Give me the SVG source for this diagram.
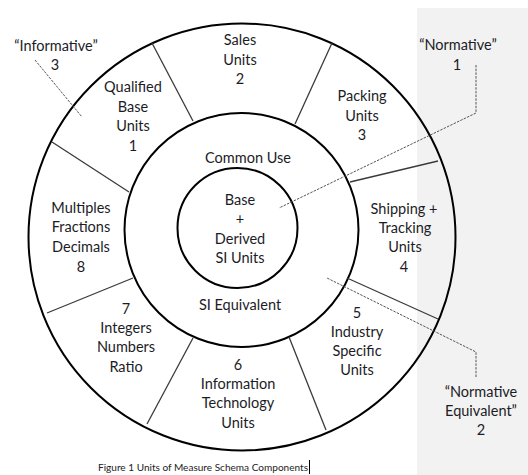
<svg xmlns="http://www.w3.org/2000/svg" width="528" height="475" viewBox="0 0 528 475">
<style>
  .t { font-family: Lato, "Open Sans", "Liberation Sans", sans-serif; font-size: 14.5px; fill: #1c1c26; text-anchor: middle; }
  .ring { fill: none; stroke: #000; stroke-width: 2; }
  .div { stroke: #3a3a3a; stroke-width: 1.3; fill: none; }
  .lead { stroke: #555; stroke-width: 1; fill: none; stroke-dasharray: 2.5 1.2; }
  .cap { font-family: Lato, "Liberation Sans", sans-serif; font-size: 9.5px; fill: #222; }
</style>
<rect x="0" y="0" width="528" height="475" fill="#fff"/>
<rect id="panel" x="417" y="8" width="111" height="467" fill="#f2f2f2"/>

<g id="rings">
  <circle class="ring" cx="242" cy="237" r="213.5"/>
  <circle class="ring" cx="241.5" cy="230" r="117"/>
  <circle class="ring" cx="237.5" cy="228" r="60"/>
</g>

<g id="dividers">
  <line class="div" x1="152" y1="43" x2="193" y2="121"/>
  <line class="div" x1="52" y1="142" x2="129" y2="192"/>
  <line class="div" x1="332" y1="43" x2="295" y2="124"/>
  <line class="div" x1="438" y1="161" x2="350" y2="182"/>
  <line class="div" x1="347" y1="278" x2="438" y2="319"/>
  <line class="div" x1="289" y1="337" x2="326" y2="430"/>
  <line class="div" x1="193" y1="338" x2="147" y2="424"/>
  <line class="div" x1="133" y1="278" x2="47" y2="313"/>
</g>

<g id="connectors">
  <line class="lead" x1="35" y1="60" x2="82" y2="117"/>
  <polyline class="lead" points="476,65 476,113 279,208"/>
  <polyline class="lead" points="476,377 476,352 327,278"/>
</g>

<g id="sales-units">
  <text class="t" x="240" y="45">Sales</text>
  <text class="t" x="240" y="65">Units</text>
  <text class="t" x="240" y="84">2</text>
</g>
<g id="qualified-base-units">
  <text class="t" x="133" y="92">Qualified</text>
  <text class="t" x="133" y="112">Base</text>
  <text class="t" x="133" y="131">Units</text>
  <text class="t" x="133" y="151">1</text>
</g>
<g id="packing-units">
  <text class="t" x="362" y="101">Packing</text>
  <text class="t" x="362" y="121">Units</text>
  <text class="t" x="362" y="140">3</text>
</g>
<g id="shipping-tracking-units">
  <text class="t" x="404" y="214">Shipping +</text>
  <text class="t" x="405" y="233">Tracking</text>
  <text class="t" x="405" y="252">Units</text>
  <text class="t" x="404" y="272">4</text>
</g>
<g id="industry-specific-units">
  <text class="t" x="357" y="318">5</text>
  <text class="t" x="357" y="337">Industry</text>
  <text class="t" x="357" y="356">Specific</text>
  <text class="t" x="357" y="375">Units</text>
</g>
<g id="information-technology-units">
  <text class="t" x="238" y="370">6</text>
  <text class="t" x="238" y="389">Information</text>
  <text class="t" x="238" y="408">Technology</text>
  <text class="t" x="238" y="428">Units</text>
</g>
<g id="integers-numbers-ratio">
  <text class="t" x="126" y="314">7</text>
  <text class="t" x="126" y="333">Integers</text>
  <text class="t" x="126" y="352">Numbers</text>
  <text class="t" x="126" y="372">Ratio</text>
</g>
<g id="multiples-fractions-decimals">
  <text class="t" x="81" y="213">Multiples</text>
  <text class="t" x="81" y="232">Fractions</text>
  <text class="t" x="81" y="252">Decimals</text>
  <text class="t" x="81" y="272">8</text>
</g>
<g id="common-use">
  <text class="t" x="248" y="163">Common Use</text>
</g>
<g id="si-equivalent">
  <text class="t" x="240" y="310">SI Equivalent</text>
</g>
<g id="base-derived-si-units">
  <text class="t" x="240" y="205">Base</text>
  <text class="t" x="240" y="224">+</text>
  <text class="t" x="240" y="244">Derived</text>
  <text class="t" x="240" y="263">SI Units</text>
</g>
<g id="informative">
  <text class="t" x="56" y="51">“Informative”</text>
  <text class="t" x="55" y="70">3</text>
</g>
<g id="normative">
  <text class="t" x="458" y="50">“Normative”</text>
  <text class="t" x="457" y="70">1</text>
</g>
<g id="normative-equivalent">
  <text class="t" x="481" y="397">“Normative</text>
  <text class="t" x="481" y="416">Equivalent”</text>
  <text class="t" x="481" y="435">2</text>
</g>

<g id="caption">
  <text class="cap" x="98" y="471" textLength="210" lengthAdjust="spacingAndGlyphs">Figure 1 Units of Measure Schema Components</text>
  <line x1="309.5" y1="460" x2="309.5" y2="474" stroke="#000" stroke-width="1"/>
</g>
</svg>
